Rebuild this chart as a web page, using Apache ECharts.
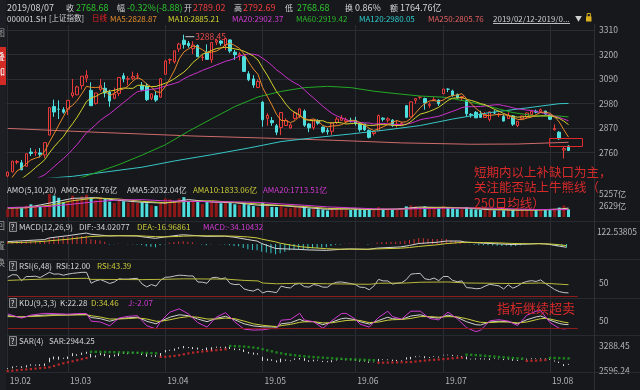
<!DOCTYPE html>
<html>
<head>
<meta charset="utf-8">
<title>000001.SH 上证指数</title>
<script src="https://cdn.jsdelivr.net/npm/echarts@6.0.0/dist/echarts.min.js"></script>
<style>
html,body{margin:0;padding:0;background:#16181c;overflow:hidden;}
#chart{width:640px;height:390px;}
</style>
</head>
<body>
<div id="chart"></div>
<script>
// ================= DATA =================
const dates = [
'2019/02/12','2019/02/13','2019/02/14','2019/02/15','2019/02/18','2019/02/19','2019/02/20','2019/02/21','2019/02/22','2019/02/25','2019/02/26','2019/02/27','2019/02/28',
'2019/03/01','2019/03/04','2019/03/05','2019/03/06','2019/03/07','2019/03/08','2019/03/11','2019/03/12','2019/03/13','2019/03/14','2019/03/15','2019/03/18','2019/03/19','2019/03/20','2019/03/21','2019/03/22','2019/03/25','2019/03/26','2019/03/27','2019/03/28','2019/03/29',
'2019/04/01','2019/04/02','2019/04/03','2019/04/04','2019/04/08','2019/04/09','2019/04/10','2019/04/11','2019/04/12','2019/04/15','2019/04/16','2019/04/17','2019/04/18','2019/04/19','2019/04/22','2019/04/23','2019/04/24','2019/04/25','2019/04/26','2019/04/29','2019/04/30',
'2019/05/06','2019/05/07','2019/05/08','2019/05/09','2019/05/10','2019/05/13','2019/05/14','2019/05/15','2019/05/16','2019/05/17','2019/05/20','2019/05/21','2019/05/22','2019/05/23','2019/05/24','2019/05/27','2019/05/28','2019/05/29','2019/05/30','2019/05/31',
'2019/06/03','2019/06/04','2019/06/05','2019/06/06','2019/06/10','2019/06/11','2019/06/12','2019/06/13','2019/06/14','2019/06/17','2019/06/18','2019/06/19','2019/06/20','2019/06/21','2019/06/24','2019/06/25','2019/06/26','2019/06/27','2019/06/28',
'2019/07/01','2019/07/02','2019/07/03','2019/07/04','2019/07/05','2019/07/08','2019/07/09','2019/07/10','2019/07/11','2019/07/12','2019/07/15','2019/07/16','2019/07/17','2019/07/18','2019/07/19','2019/07/22','2019/07/23','2019/07/24','2019/07/25','2019/07/26','2019/07/29','2019/07/30','2019/07/31',
'2019/08/01','2019/08/02','2019/08/05','2019/08/06','2019/08/07'];
const padCategories = ['p1','p2','p3','p4','p5'];

// [open, close, low, high]
const ohlc = [
[2654.5,2671.89,2648.94,2673.4],[2673.0,2721.07,2670.2,2722.3],[2716.0,2719.70,2707.0,2726.5],[2714.0,2682.39,2681.0,2726.0],
[2698.0,2754.36,2697.0,2754.9],[2762.0,2755.65,2744.0,2780.0],[2758.0,2761.22,2744.0,2774.0],[2758.0,2751.80,2738.0,2780.0],
[2749.0,2804.23,2735.0,2804.5],[2838.0,2961.28,2838.0,2961.5],[2966.0,2941.52,2920.0,2997.0],[2954.0,2953.82,2910.0,2994.0],
[2952.0,2940.95,2934.0,2963.0],
[2954.0,2994.01,2928.0,2996.0],[3015.0,3027.58,3006.0,3090.0],[3019.0,3054.25,3017.0,3060.0],[3060.0,3102.10,3043.0,3103.0],
[3094.0,3106.42,3075.0,3129.0],[3039.0,2969.86,2969.0,3075.0],[2980.0,3026.99,2975.0,3027.0],[3042.0,3060.31,3033.0,3090.0],
[3048.0,3026.95,3007.0,3075.0],[3031.0,2990.69,2965.0,3041.0],[3003.0,3021.75,2999.0,3051.0],[3025.0,3096.42,3013.0,3097.0],
[3104.0,3090.98,3075.0,3117.0],[3089.0,3090.64,3062.0,3103.0],[3093.0,3101.46,3085.0,3123.0],[3103.0,3104.15,3088.0,3117.0],
[3059.0,3043.03,3035.0,3076.0],[3058.0,2997.10,2991.0,3072.0],[3003.0,3022.72,2995.0,3026.0],[3015.0,2994.94,2987.0,3035.0],
[3008.0,3090.76,3005.0,3093.0],
[3111.0,3170.36,3111.0,3176.0],[3175.0,3176.82,3157.0,3182.0],[3167.0,3216.30,3159.0,3216.5],[3224.0,3246.57,3210.0,3252.0],
[3264.0,3244.81,3226.0,3288.45],[3250.0,3239.66,3230.0,3260.0],[3226.0,3241.93,3202.0,3259.0],[3240.0,3189.96,3189.0,3245.0],
[3186.0,3188.63,3171.0,3200.0],[3209.0,3177.79,3175.0,3245.0],[3176.0,3253.60,3162.0,3254.0],[3255.0,3263.12,3242.0,3270.0],
[3260.0,3250.20,3239.0,3264.0],[3242.0,3270.80,3219.0,3271.0],[3265.0,3215.04,3206.0,3268.0],[3210.0,3198.59,3175.0,3220.0],
[3195.0,3201.61,3173.0,3210.0],[3190.0,3123.83,3122.0,3192.0],[3113.0,3086.40,3080.0,3125.0],[3090.0,3062.50,3050.0,3107.0],
[3052.0,3078.34,3050.0,3088.0],
[2986.0,2906.46,2876.0,2990.0],[2913.0,2926.39,2880.0,2936.0],[2903.0,2893.76,2880.0,2919.0],[2880.0,2850.95,2838.0,2888.0],
[2872.0,2939.21,2838.0,2940.0],[2881.0,2903.71,2880.0,2913.0],[2870.0,2883.61,2867.0,2890.0],[2913.0,2938.68,2907.0,2944.0],
[2925.0,2955.71,2914.0,2956.0],[2946.0,2882.30,2875.0,2953.0],[2888.0,2870.60,2851.0,2892.0],[2871.0,2905.97,2862.0,2907.0],
[2903.0,2891.70,2884.0,2909.0],[2874.0,2852.52,2846.0,2876.0],[2859.0,2852.99,2840.0,2870.0],[2855.0,2892.38,2839.0,2894.0],
[2894.0,2909.91,2887.0,2919.0],[2904.0,2914.70,2904.0,2928.0],[2899.0,2905.81,2893.0,2917.0],[2903.0,2898.70,2895.0,2916.0],
[2903.0,2890.08,2881.0,2920.0],[2889.0,2862.28,2853.0,2893.0],[2888.0,2861.42,2857.0,2888.0],[2859.0,2827.80,2823.0,2863.0],
[2845.0,2852.13,2836.0,2852.5],[2858.0,2925.72,2858.0,2930.0],[2914.0,2909.38,2899.0,2918.0],[2905.0,2910.74,2894.0,2918.0],
[2905.0,2881.97,2875.0,2910.0],[2883.0,2887.62,2872.0,2903.0],[2886.0,2890.16,2880.0,2897.0],[2970.0,2917.80,2914.0,2973.0],
[2920.0,2987.12,2918.0,2989.0],[2994.0,3001.98,2978.0,3004.0],[3008.0,3008.15,2999.0,3013.0],[3002.0,2982.07,2952.0,3006.0],
[2971.0,2976.28,2960.0,2985.0],[2995.0,2996.79,2990.0,3009.0],[2995.0,2978.88,2969.0,2998.0],
[3024.0,3044.90,3024.0,3045.0],[3044.0,3043.94,3031.0,3048.0],[3036.0,3015.26,3010.0,3042.0],[3021.0,3005.25,3001.0,3024.0],
[3005.0,3011.06,2991.0,3013.0],[2993.0,2933.36,2919.0,2996.0],[2931.0,2928.23,2916.0,2937.0],[2940.0,2915.30,2915.0,2946.0],
[2933.0,2917.76,2916.0,2947.0],[2917.0,2930.55,2915.0,2942.0],[2908.0,2942.19,2899.0,2945.0],[2938.0,2937.62,2932.0,2950.0],
[2929.0,2931.69,2919.0,2938.0],[2921.0,2901.19,2899.0,2931.0],[2912.0,2924.20,2911.0,2940.0],[2924.0,2886.97,2879.0,2928.0],
[2881.0,2899.94,2874.0,2900.0],[2912.0,2923.28,2909.0,2925.0],[2921.0,2937.36,2912.0,2939.0],[2929.0,2944.54,2925.0,2948.0],
[2945.0,2941.01,2936.0,2952.0],[2944.0,2952.34,2939.0,2957.0],[2946.0,2932.51,2930.0,2947.0],
[2925.0,2908.77,2906.0,2930.0],[2862.0,2867.84,2859.0,2886.0],[2851.0,2821.50,2817.0,2856.0],[2771.0,2777.56,2733.0,2785.0],
[2789.02,2768.68,2768.68,2792.69]];

const ma5 = [2620.8,2649.9,2677.0,2689.8,2709.9,2726.6,2734.7,2741.1,2765.5,2806.8,
2844.0,2882.5,2920.4,2958.3,2971.6,2994.1,3023.8,3056.9,3052.0,3051.9,
3053.1,3038.1,3015.0,3025.3,3039.2,3045.4,3058.1,3080.3,3096.7,3086.1,
3067.3,3053.7,3032.4,3029.7,3055.2,3091.1,3129.8,3180.2,3211.0,3224.8,
3237.9,3232.6,3221.0,3207.6,3210.4,3214.6,3226.7,3243.1,3250.6,3239.6,
3227.2,3202.0,3165.1,3134.6,3110.5,3051.5,3012.0,2973.5,2931.2,2903.4,
2902.8,2894.2,2903.2,2924.2,2912.8,2906.2,2910.7,2901.3,2880.6,2874.8,
2879.1,2879.9,2884.5,2895.2,2904.3,2903.8,2894.3,2883.7,2868.1,2858.7,
2865.9,2875.3,2885.2,2896.0,2903.1,2896.0,2897.7,2912.9,2936.9,2961.0,
2979.4,2991.1,2993.1,2988.4,2995.8,3008.2,3016.0,3017.6,3024.1,3001.8,
2978.6,2958.6,2941.1,2925.0,2926.8,2928.7,2932.0,2928.6,2927.4,2916.3,
2908.8,2907.1,2914.4,2918.4,2929.2,2939.7,2941.6,2935.8,2920.5,2896.6,
2861.6,2828.87];
const ma10 = [2607.0,2621.0,2633.8,2641.9,2657.6,2673.7,2692.3,2709.0,2727.6,2758.4,
2785.3,2808.6,2830.7,2861.9,2889.2,2919.1,2953.2,2988.6,3005.2,3011.8,
3023.6,3030.9,3035.9,3038.7,3045.6,3049.2,3048.1,3047.6,3061.0,3062.6,
3056.3,3055.9,3056.3,3063.2,3070.6,3079.2,3091.8,3106.3,3120.3,3140.0,
3164.5,3181.2,3200.6,3209.3,3217.6,3226.2,3229.6,3232.1,3229.1,3225.0,
3220.9,3214.3,3204.1,3192.6,3175.0,3139.4,3107.0,3069.3,3032.9,3006.9,
2977.2,2953.1,2938.4,2927.7,2908.1,2904.5,2902.5,2902.2,2902.4,2893.8,
2892.6,2895.3,2892.9,2887.9,2889.5,2891.5,2887.1,2884.1,2881.6,2881.5,
2884.9,2884.8,2884.4,2882.0,2880.9,2880.9,2886.5,2899.0,2916.5,2932.1,
2937.7,2944.4,2953.0,2962.7,2978.4,2993.8,3003.5,3005.4,3006.3,2998.8,
2993.4,2987.3,2979.4,2974.6,2964.3,2953.7,2945.3,2934.9,2926.2,2921.6,
2918.7,2919.5,2921.5,2922.9,2922.8,2924.3,2924.3,2925.1,2919.5,2912.9,
2900.7,2885.21];
const ma20 = [2586.3,2595.1,2604.3,2610.8,2621.7,2631.0,2640.5,2650.1,2660.5,2678.1,
2696.2,2714.8,2732.3,2751.9,2773.4,2796.4,2822.7,2848.8,2866.4,2885.1,
2904.5,2919.8,2933.3,2950.3,2967.4,2984.2,3000.6,3018.1,3033.1,3037.2,
3040.0,3043.4,3046.1,3051.0,3058.1,3064.2,3069.9,3076.9,3090.7,3101.3,
3110.4,3118.6,3128.4,3136.3,3144.1,3152.7,3160.7,3169.2,3174.7,3182.5,
3192.7,3197.8,3202.3,3200.9,3196.3,3182.8,3168.3,3150.7,3131.0,3116.0,
3099.0,3083.7,3071.2,3060.1,3041.6,3021.9,3004.7,2985.8,2967.6,2950.4,
2934.9,2924.2,2915.6,2907.8,2898.8,2898.0,2894.8,2893.2,2892.0,2887.7,
2888.8,2890.0,2888.6,2885.0,2885.2,2886.2,2886.8,2891.6,2899.0,2906.8,
2911.3,2914.6,2918.7,2922.4,2929.7,2937.4,2945.0,2952.2,2961.4,2965.4,
2965.5,2965.8,2966.2,2968.6,2971.4,2973.7,2974.4,2970.1,2966.2,2960.2,
2956.1,2953.4,2950.4,2948.7,2943.5,2939.0,2934.8,2930.0,2922.8,2917.2,
2909.7,2902.37];
// [dayIndex, value] read at intervals (smooth curves)
const ma60 = [[0,2585],[4,2590.8],[9,2601.7],[14,2634.4],[19,2669.3],[24,2705.6],[29,2748.5],[34,2794.3],[39,2855.1],[44,2911.1],[49,2965.9],[54,3009.3],[59,3034.1],[64,3051.0],[69,3056.7],[74,3051.1],[79,3035.0],[84,3023.7],[89,3013.2],[94,3008.3],[99,2989.7],[104,2966.1],[109,2939.1],[114,2924.0],[119,2923.5],[121,2919.42]];
const ma120 = [[0,2630],[14,2653],[29,2694],[36,2722],[44,2750],[52,2780],[59,2809],[66,2826],[74,2843],[82,2862],[89,2881],[96,2910],[104,2939],[112,2960],[119,2979],[121,2980.05]];
const ma250 = [[0,2868],[20,2850],[40,2834],[55,2825],[70,2815],[85,2803],[100,2797],[110,2798],[121,2805.76]];

// turnover (亿)
const amount = [1800,2200,2100,2000,2600,2900,2500,2500,2700,5257,
4900,4400,3400,3700,4900,4100,4700,5100,4400,3800,
4500,4100,3500,3200,3700,3600,3250,3400,3200,3350,
3130,2660,2500,3330,4240,4010,3670,4200,4540,3520,
3610,3420,2940,3620,3540,3580,3150,3240,3380,2920,
2780,3250,2710,2510,2250,3220,2480,2300,2270,2800,
2090,1990,2300,2170,2320,1950,1910,1760,1720,1480,
1890,2270,1860,1780,1620,1880,1770,1610,1620,1550,
2250,1860,1680,1690,1670,1530,2430,2690,2480,2240,
2430,1940,2070,1960,2490,2160,2020,1800,1800,2280,
1790,1690,1620,1600,1640,1520,1450,1500,1720,1700,
1560,1630,1700,1640,1560,1670,1600,1745,1900,2150,
2600,1764.76];
const ama5 = [[0,2050],[4,2140],[9,3171],[14,4260],[19,4420],[24,3800],[29,3360],[34,3172],[39,3988],[44,3426],[49,3254],[54,2700],[59,2614],[64,2174],[69,1764],[74,1884],[79,1686],[84,1830],[89,2274],[94,2178],[99,2012],[104,1668],[109,1578],[114,1618],[119,1813],[121,2032.04]];
const ama10 = [[0,2100],[4,2120],[9,2656],[14,3716],[19,4340],[24,4110],[29,3580],[34,3266],[39,3580],[44,3707],[49,3340],[54,2977],[59,2657],[64,2394],[69,1969],[74,1824],[79,1785],[84,1758],[89,2052],[94,2226],[99,2095],[104,1840],[109,1623],[114,1598],[119,1716],[121,1833.06]];
const ama20 = [[0,2150],[9,2420],[14,2950],[19,3498],[24,3913],[29,3960],[34,3688],[39,3580],[44,3487],[49,3460],[54,3342],[59,2999],[64,2686],[69,2313],[74,2109],[79,1877],[84,1791],[89,1919],[94,1992],[99,2074],[104,2033],[109,1859],[114,1719],[119,1669],[121,1713.51]];

// MACD(12,26,9)
const dif = [[0,25],[4,35],[8,45],[9,62],[13,85],[17,112],[18,100],[22,82],[24,85],[28,82],[30,68],[32,58],[34,72],[37,90],[38,94],[41,85],[43,78],[47,80],[49,70],[52,45],[54,30],[55,5],[58,-45],[59,-48],[63,-55],[65,-60],[69,-65],[72,-55],[74,-50],[78,-55],[80,-42],[85,-30],[87,-15],[89,5],[93,18],[95,30],[98,30],[99,20],[103,8],[107,0],[109,-5],[113,0],[115,5],[117,-2],[119,-18],[121,-34.02077]];
const dea = [[0,12],[4,18],[8,27],[9,33],[13,48],[17,70],[18,76],[22,84],[24,84],[28,84],[30,80],[32,75],[34,73],[37,77],[38,80],[41,84],[43,84],[47,82],[49,80],[52,72],[54,62],[55,50],[58,22],[59,8],[63,-25],[65,-35],[69,-48],[72,-53],[74,-53],[78,-53],[80,-50],[85,-43],[87,-36],[89,-25],[93,-8],[95,4],[98,15],[99,17],[103,15],[107,10],[109,6],[113,2],[115,2],[117,1],[119,-5],[121,-16.96861]];
const macdHist = [26,28,30,28,34,34,34,33,36,58,
62,66,68,74,76,78,82,84,48,40,
36,24,-4,-2,2,0,-2,-2,-4,-10,
-24,-28,-34,-12,-2,12,20,26,28,22,
18,2,-6,-12,-2,0,-2,-4,-12,-20,
-24,-40,-54,-60,-64,-80,-88,-95,-105,-95,
-80,-65,-58,-56,-54,-50,-44,-40,-36,-34,
-20,-8,-4,2,6,4,2,0,-4,2,
16,18,20,20,24,26,32,42,50,60,
58,54,52,52,54,52,40,34,30,6,
-2,-8,-12,-14,-14,-16,-18,-20,-16,-22,
-20,-14,-8,-4,0,6,2,-6,-14,-26,
-30,-34.10432];

// RSI(6,48)
const rsi6 = [72,82,81,59,75,75,76,71,81,91,
84,85,80,84,87,89,91,91,49,58,
63,56,48,54,66,65,65,67,68,46,
35,44,38,61,72,73,77,80,79,77,
77,54,53,49,70,72,66,70,48,44,
45,27,22,19,27,12,18,16,13,38,
33,31,45,48,36,34,44,41,34,34,
47,53,54,51,48,44,34,33,24,38,
64,58,58,46,49,51,63,84,86,87,
66,63,69,59,75,75,60,55,58,32,
31,28,29,38,45,42,39,27,43,30,
38,50,56,59,56,62,48,37,25,17,
13,12.00];
const rsi48 = [[0,60],[9,66],[17,68],[18,64],[29,63],[33,64],[38,66],[47,65],[51,60],[54,58],[55,50],[58,47],[63,49],[69,47],[78,45],[80,49],[86,50],[89,53],[95,54],[99,50],[109,48],[115,50],[121,43.39]];

// KDJ(9,3,3)
const kdjAt = [0,3,5,8,10,13,15,17,18,20,22,24,26,28,30,32,33,35,37,39,41,43,45,47,49,51,53,55,57,58,59,61,63,64,66,68,70,72,73,75,76,78,80,82,83,85,87,89,91,93,95,97,99,101,102,104,106,108,110,112,114,115,116,117,119,120,121];
const kVals = [82,72,80,86,88,88,90,91,70,62,45,62,68,72,45,28,45,72,88,82,60,42,64,78,55,28,14,8,7,5,28,35,58,45,42,22,40,62,66,55,42,26,50,72,62,58,80,88,72,66,86,70,42,22,20,40,45,42,28,55,74,80,68,52,30,24,22.28];
const dVals = [76,75,77,80,84,86,87,88,82,73,60,60,63,67,60,45,45,55,68,76,72,60,60,66,62,46,28,18,12,10,16,24,38,41,42,34,35,45,50,53,50,36,40,52,55,57,64,76,76,72,76,74,62,45,38,36,40,40,34,40,55,62,64,60,46,39,34.46];
const jVals = [94,66,86,98,96,92,96,97,46,40,15,66,78,82,15,-6,45,106,128,94,36,6,72,102,41,-8,-14,-12,-3,-5,52,57,98,53,42,-2,50,96,98,59,26,6,70,112,76,60,112,112,64,54,106,62,2,-24,-16,48,55,46,16,85,112,116,76,36,-2,-6,-2.07];

// SAR(4)
const sar = [2596.24,2605,2618,2630,2640,2650,2662,2675,2686,2700,
2735,2775,2810,2838,2865,2895,2925,2955,3129,3127,
3125,3123,3120,3117,3114,3111,3108,3105,3102,3099,
3096,3091,3086,2987,2990,3000,3015,3035,3060,3085,
3105,3120,3135,3148,3160,3172,3185,3198,3288,3284,
3279,3272,3260,3246,3230,3200,3168,3140,3110,3085,
3063,3045,3030,3015,3003,2992,2982,2973,2965,2957,
2948,2940,2933,2926,2920,2915,2910,2905,2900,2893,
2823,2826,2829,2832,2835,2838,2841,2846,2858,2872,
2885,2896,2906,2915,2925,2937,2948,2958,2966,3048,
3043,3035,3025,3015,3005,2995,2985,2975,2965,2955,
2945,2940,2874,2878,2885,2893,2902,2957,2955,2952,
2948,2944.25];
const sarFlipAt = [18,33,48,80,99,112,117]; // trend starts up, flips at these days
const mainTicks = {min: 2650, max: 3332, step: 110};
const sarRange = {min: 2596.24, max: 3288.45};

// ================= CHART =================
const FONT = '"Noto Sans CJK SC","Noto Sans",sans-serif';
const BG = '#16181c', GRIDC = '#2a2d34', AXT = '#b4b4b4';
const C = {up:'#ea3b3b', down:'#4fdede', ma5:'#e8892a', ma10:'#d2d22e', ma20:'#cc32cc', ma60:'#25a825',
  ma120:'#38c6c6', ma250:'#cf6a6a', white:'#d4d4d4', yellow:'#cccc3a', magenta:'#d23ad2',
  green:'#2ec42e', red:'#f03c3c', orange:'#e08a2c', cyan:'#2ecaca', salmon:'#e25e5e', dred:'#8e1c1c'};

const cats = dates.concat(padCategories);
const isMonthStart = i => i < dates.length && (i === 0 || dates[i].slice(5,7) !== dates[i-1].slice(5,7));
let dir = 1;
const sarDir = dates.map((d, i) => { if (sarFlipAt.indexOf(i) >= 0) dir = -dir; return dir; });
const sarUp = [], sarDown = [];
sar.forEach((v, i) => (sarDir[i] > 0 ? sarUp : sarDown).push([i, v]));
const pairs = (at, vals) => at.map((x, k) => [x, vals[k]]);

const L = 5.4, R = 46;
const grids = [
  {left:L, right:R, top:25, height:152},
  {left:L, right:R, top:194, height:23},
  {left:L, right:R, top:232, height:24},
  {left:L, right:R, top:270, height:26},
  {left:L, right:R, top:305.5, height:30},
  {left:L, right:R, top:346, height:25},
  {left:7.72, right:48.32, top:25, height:347}
];
const xAxes = grids.map((g, gi) => {
  if (gi < 6) return {type:'category', gridIndex:gi, data:cats, show:false, boundaryGap:true};
  return {type:'category', gridIndex:6, data:cats, boundaryGap:false,
    axisLine:{show:false}, axisTick:{show:false},
    splitLine:{show:true, interval:(i)=>isMonthStart(i), lineStyle:{color:GRIDC, width:1}},
    axisLabel:{show:true, interval:(i)=>isMonthStart(i), align:'left', margin:5, color:AXT, fontSize:8.5, fontFamily:FONT,
      padding:[0,0,0,2], formatter:(v)=> v.length === 10 ? v.slice(2,4)+'.'+v.slice(5,7) : ''}};
});
const axLab = (extra) => Object.assign({color:AXT, fontSize:8.5, fontFamily:FONT, margin:5}, extra);
const yAxes = [
  {type:'value', gridIndex:0, position:'right', min:mainTicks.min, max:mainTicks.max, interval:mainTicks.step, scale:true,
    axisLine:{show:false}, axisTick:{show:false},
    axisLabel:axLab({showMinLabel:false, showMaxLabel:false, formatter:(v)=> String(Math.round(v))}),
    splitLine:{show:true, showMinLine:false, showMaxLine:false, lineStyle:{color:GRIDC}}},
  {type:'value', gridIndex:1, position:'right', min:0, max:5257, interval:2628.5,
    axisLine:{show:false}, axisTick:{show:false}, splitLine:{show:false},
    axisLabel:axLab({formatter:(v)=> v > 0 ? Math.round(v)+'亿' : ''})},
  {type:'value', gridIndex:2, position:'right', min:-122.53805, max:122.53805, interval:122.53805,
    axisLine:{show:false}, axisTick:{show:false}, splitLine:{show:false},
    axisLabel:axLab({formatter:(v)=> v > 1 ? v.toFixed(5) : ''})},
  {type:'value', gridIndex:3, position:'right', min:0, max:100, interval:50,
    axisLine:{show:false}, axisTick:{show:false}, splitLine:{show:false},
    axisLabel:axLab({formatter:(v)=> v === 50 ? '50' : ''})},
  {type:'value', gridIndex:4, position:'right', min:-50, max:150, interval:50,
    axisLine:{show:false}, axisTick:{show:false}, splitLine:{show:false},
    axisLabel:axLab({formatter:(v)=> v === 50 ? '50' : ''})},
  {type:'value', gridIndex:5, position:'right', min:sarRange.min, max:sarRange.max, splitNumber:1,
    axisLine:{show:false}, axisTick:{show:false}, splitLine:{show:false},
    axisLabel:axLab({showMinLabel:true, showMaxLabel:true,
      formatter:(v)=> (Math.abs(v-sarRange.min)<1e-6 || Math.abs(v-sarRange.max)<1e-6) ? v.toFixed(2) : ''})},
  {type:'value', gridIndex:6, show:false, min:0, max:1}
];

function line(name, data, color, gi, extra) {
  return Object.assign({name, type:'line', data, xAxisIndex:gi, yAxisIndex:gi, symbol:'none', showSymbol:false,
    lineStyle:{width:1, color}, itemStyle:{color}, silent:true, clip:true, animation:false}, extra || {});
}
const redZero = {silent:true, symbol:['none','none'], label:{show:false}, lineStyle:{color:C.dred, width:1, type:'solid'},
  data:[[{coord:[0,0]},{coord:[123,0]}]], animation:false};

const series = [
  {name:'K', type:'candlestick', xAxisIndex:0, yAxisIndex:0, data:ohlc, barWidth:3, animation:false,
    itemStyle:{color:BG, color0:C.down, borderColor:C.up, borderColor0:C.down, borderWidth:1},
    markPoint:{symbol:'rect', symbolSize:[9,1], symbolOffset:[6,2], itemStyle:{color:'#c8c8c8'}, animation:false,
      label:{show:true, position:'right', distance:1, fontSize:8.5, fontFamily:FONT, formatter:(p)=>(+p.value).toFixed(2)},
      data:[{type:'max', valueDim:'highest', label:{color:'#e84848'}},
            {type:'min', valueDim:'lowest', symbolSize:[4,1], symbolOffset:[3,-1], label:{color:'#cfcfcf'}}]}},
  line('MA250', ma250, C.ma250, 0),
  line('MA120', ma120, C.ma120, 0),
  line('MA60', ma60, C.ma60, 0),
  line('MA20', ma20, C.ma20, 0),
  line('MA10', ma10, C.ma10, 0),
  line('MA5', ma5, C.ma5, 0),
  {name:'AMO', type:'bar', xAxisIndex:1, yAxisIndex:1, barWidth:3, animation:false, silent:true,
    data: amount.map((v,i)=>({value:v, itemStyle:{color: ohlc[i][1] >= ohlc[i][0] ? '#8e1818' : C.down}}))},
  line('AMA5', ama5, C.white, 1),
  line('AMA10', ama10, C.yellow, 1),
  line('AMA20', ama20, C.magenta, 1),
  {name:'MACD', type:'bar', xAxisIndex:2, yAxisIndex:2, barWidth:1, animation:false, silent:true,
    data: macdHist.map(v=>({value:v, itemStyle:{color: v >= 0 ? '#cc3030' : '#36c4c4'}}))},
  line('DIF', dif, C.white, 2),
  line('DEA', dea, C.yellow, 2),
  line('RSI6', rsi6, '#c4c4c4', 3, {markLine:redZero}),
  line('RSI48', rsi48, '#b8b83a', 3),
  line('K', pairs(kdjAt,kVals), '#d0d0d0', 4, {markLine:redZero}),
  line('D', pairs(kdjAt,dVals), C.yellow, 4),
  line('J', pairs(kdjAt,jVals), C.magenta, 4),
  {name:'Price', type:'candlestick', xAxisIndex:5, yAxisIndex:5, data:ohlc, barWidth:1, animation:false, silent:true,
    itemStyle:{color:'#d8d8d8', color0:'#d8d8d8', borderColor:'#d8d8d8', borderColor0:'#d8d8d8', borderWidth:1}},
  {name:'SAR↑', type:'scatter', xAxisIndex:5, yAxisIndex:5, data:sarUp, symbol:'rect', symbolSize:2.2,
    itemStyle:{color:'#e02c2c'}, silent:true, animation:false},
  {name:'SAR↓', type:'scatter', xAxisIndex:5, yAxisIndex:5, data:sarDown, symbol:'rect', symbolSize:2.4,
    itemStyle:{color:'#1e9e1e'}, silent:true, animation:false}
];

// ---------- text / chrome ----------
function txt(x, y, s, fill, size, extra) {
  return Object.assign({type:'text', x:x, y:y, z:100, silent:true,
    style:{text:s, fill:fill, fontSize:size || 8, fontFamily:FONT, verticalAlign:'middle', align:'left'}}, extra || {});
}
function hline(y, x1, x2, color) {
  return {type:'line', z:1, silent:true, shape:{x1:x1, y1:y, x2:x2, y2:y}, style:{stroke:color || '#272a30', lineWidth:1}};
}
function qbox(y) {
  return [{type:'rect', z:100, silent:true, shape:{x:9.5, y:y-4.5, width:7, height:9}, style:{fill:'#2a2c31', stroke:'#8a8a8a', lineWidth:1}},
          txt(10.8, y+0.5, '?', '#e6e6e6', 7.5)];
}
const last = ohlc[ohlc.length-1], prev = ohlc[ohlc.length-2];
const chg = last[1] - prev[1];
const pct = chg / prev[1] * 100;
const fx = (v) => (+v).toFixed(2);
const lastOf = (arr) => { const v = arr[arr.length-1]; return Array.isArray(v) ? v[1] : v; };
const y1 = 7.5, y2 = 18.5, big = 9, cj = 8;

const graphics = [
  // sidebar
  {type:'rect', z:90, silent:true, shape:{x:0, y:0, width:6, height:390}, style:{fill:'#1c1e23'}},
  {type:'rect', z:91, silent:true, shape:{x:0, y:47, width:6, height:38}, style:{fill:'#d22a24'}},
  txt(-4, 33, '图', '#9a9a9a', 9, {z:92}), txt(-4, 57, '叠', '#f4f4f4', 9, {z:92}), txt(-4, 72, '加', '#f4f4f4', 9, {z:92}),
  txt(-4, 226, '回', '#9a9a9a', 9, {z:92}), txt(-4, 246, '置', '#9a9a9a', 9, {z:92}), txt(-4, 263, '换', '#9a9a9a', 9, {z:92}),
  // separators
  hline(221.5, 6, 640), hline(259.5, 6, 640), hline(298.5, 6, 640), hline(335.5, 6, 640), hline(372.5, 6, 640),
  {type:'line', z:1, silent:true, shape:{x1:594.5, y1:24, x2:594.5, y2:390}, style:{stroke:'#2c2f36', lineWidth:1}},
  // header row 1
  txt(7, y1, dates[dates.length-1], C.white, big),
  txt(66, y1, '收', C.white, cj), txt(76, y1, fx(last[1]), C.green, big),
  txt(117, y1, '幅', C.white, cj), txt(127, y1, pct.toFixed(2)+'%('+fx(chg)+')', C.green, big),
  txt(184, y1, '开', C.white, cj), txt(193, y1, fx(last[0]), C.red, big),
  txt(234, y1, '高', C.white, cj), txt(243, y1, fx(last[3]), C.red, big),
  txt(285, y1, '低', C.white, cj), txt(297, y1, fx(last[2]), C.green, big),
  txt(345, y1, '换', C.white, cj), txt(355, y1, '0.86%', C.white, big),
  txt(390, y1, '额', C.white, cj), txt(400, y1, fx(lastOf(amount))+'亿', C.white, big),
  // header row 2
  txt(7, y2, '000001.SH', C.white), txt(49, y2, '[上证指数]', C.white, 7.5),
  txt(92, y2, '日线', '#e82222', 7.5),
  txt(110, y2, 'MA5:'+fx(lastOf(ma5)), C.orange),
  txt(168, y2, 'MA10:'+fx(lastOf(ma10)), C.ma10),
  txt(232, y2, 'MA20:'+fx(lastOf(ma20)), '#d23cd2'),
  txt(296, y2, 'MA60:'+fx(lastOf(ma60)), '#2cb82c'),
  txt(359, y2, 'MA120:'+fx(lastOf(ma120)), C.cyan),
  txt(428, y2, 'MA250:'+fx(lastOf(ma250)), C.salmon),
  txt(493, y2, '2019/02/12-2019/0...', '#cdcdcd'),
  {type:'line', z:100, silent:true, shape:{x1:493, y1:23.5, x2:570, y2:23.5}, style:{stroke:'#bdbdbd', lineWidth:1}},
  txt(575, y2, '▼', '#d0d0d0', 7),
  {type:'rect', z:100, silent:true, shape:{x:586, y:16.5, width:5.5, height:5}, style:{fill:'#d8b020'}},
  {type:'rect', z:100, silent:true, shape:{x:587.2, y:13.5, width:3.2, height:3.5}, style:{fill:'none', stroke:'#d8b020', lineWidth:1}},
  // AMO row
  txt(7, 190, 'AMO(5,10,20)', C.white),
  txt(61, 190, 'AMO:'+fx(lastOf(amount))+'亿', C.white),
  txt(127, 190, 'AMA5:'+fx(lastOf(ama5))+'亿', C.white),
  txt(193, 190, 'AMA10:'+fx(lastOf(ama10))+'亿', C.yellow),
  txt(263, 190, 'AMA20:'+fx(lastOf(ama20))+'亿', C.magenta),
  // MACD row
  ...qbox(227),
  txt(19, 227, 'MACD(12,26,9)', C.white),
  txt(79, 227, 'DIF:'+lastOf(dif).toFixed(5), C.white),
  txt(137, 227, 'DEA:'+lastOf(dea).toFixed(5), C.yellow),
  txt(203, 227, 'MACD:'+lastOf(macdHist).toFixed(5), C.magenta),
  // RSI row
  ...qbox(266),
  txt(19, 266, 'RSI(6,48)', C.white),
  txt(56, 266, 'RSI:'+fx(lastOf(rsi6)), C.white),
  txt(97, 266, 'RSI:'+fx(lastOf(rsi48)), C.yellow),
  // KDJ row
  ...qbox(303),
  txt(19, 303, 'KDJ(9,3,3)', C.white),
  txt(60, 303, 'K:'+fx(lastOf(kVals)), C.white),
  txt(91, 303, 'D:'+fx(lastOf(dVals)), C.yellow),
  txt(128, 303, 'J:'+fx(lastOf(jVals)), C.magenta),
  // SAR row
  ...qbox(341),
  txt(19, 341, 'SAR(4)', C.white),
  txt(49, 341, 'SAR:'+fx(lastOf(sar)), C.white),
  // annotations
  {type:'rect', z:100, silent:true, shape:{x:549.5, y:138.5, width:33, height:8}, style:{fill:'none', stroke:'#e02a2a', lineWidth:1}},
  {type:'text', x:474, y:164, z:100, silent:true,
    style:{text:'短期内以上补缺口为主，\n关注能否站上牛熊线（\n250日均线）', fill:'#d62a2a', fontSize:12.5, fontFamily:FONT,
      lineHeight:15.5, verticalAlign:'top', align:'left'}},
  txt(497, 308, '指标继续超卖', '#d62a2a', 13)
];

const chart = echarts.init(document.getElementById('chart'), null, {renderer:'canvas', width:640, height:390});
chart.setOption({
  backgroundColor: BG,
  animation: false,
  grid: grids,
  xAxis: xAxes,
  yAxis: yAxes,
  series: series,
  graphic: graphics
});
</script>
</body>
</html>
